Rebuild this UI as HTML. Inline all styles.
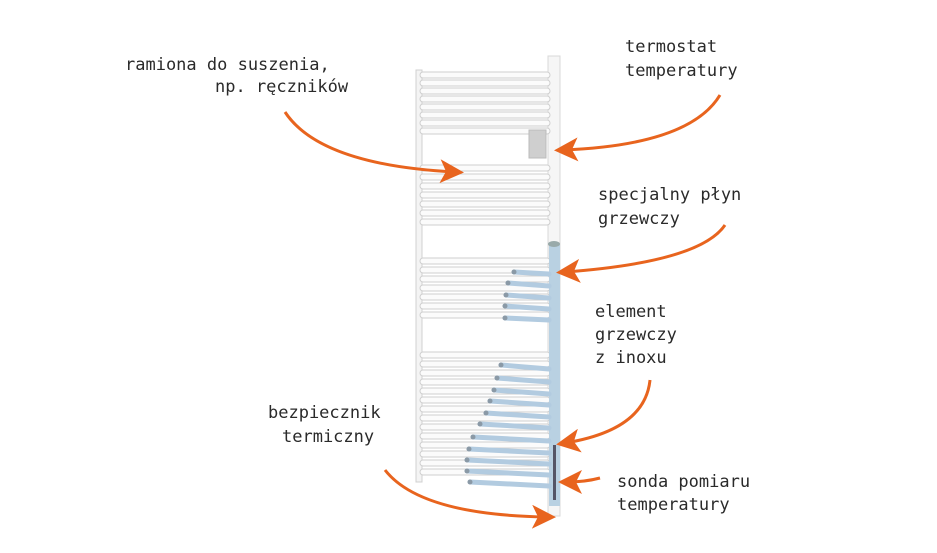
<!DOCTYPE html>
<html><head><meta charset="utf-8"><style>
html,body{margin:0;padding:0;background:#fff;width:937px;height:553px;overflow:hidden}
svg{display:block}
text{font-family:"DejaVu Sans Mono","Liberation Mono",monospace;font-size:17px;fill:#2a2a2a}
</style></head><body>
<svg width="937" height="553" viewBox="0 0 937 553">
<defs>
<marker id="a" markerWidth="8" markerHeight="8" refX="5" refY="4" orient="auto" markerUnits="strokeWidth">
<path d="M0,0 L8,4 L0,8 L2,4 Z" fill="#e8641e"/></marker>
</defs>
<rect x="416" y="70" width="6" height="412" fill="#f4f4f4" stroke="#d0d0d0"/>
<rect x="548" y="56" width="12" height="460" fill="#f6f6f6" stroke="#d8d8d8"/>
<g stroke="#cfcfcf" stroke-width="1" fill="#fbfbfb">
<rect x="420" y="72" width="130" height="6" rx="3"/>
<rect x="420" y="80" width="130" height="6" rx="3"/>
<rect x="420" y="88" width="130" height="6" rx="3"/>
<rect x="420" y="96" width="130" height="6" rx="3"/>
<rect x="420" y="104" width="130" height="6" rx="3"/>
<rect x="420" y="112" width="130" height="6" rx="3"/>
<rect x="420" y="120" width="130" height="6" rx="3"/>
<rect x="420" y="128" width="130" height="6" rx="3"/>
<rect x="420" y="165" width="130" height="6" rx="3"/>
<rect x="420" y="174" width="130" height="6" rx="3"/>
<rect x="420" y="183" width="130" height="6" rx="3"/>
<rect x="420" y="192" width="130" height="6" rx="3"/>
<rect x="420" y="201" width="130" height="6" rx="3"/>
<rect x="420" y="210" width="130" height="6" rx="3"/>
<rect x="420" y="219" width="130" height="6" rx="3"/>
<rect x="420" y="258" width="130" height="6" rx="3"/>
<rect x="420" y="267" width="130" height="6" rx="3"/>
<rect x="420" y="276" width="130" height="6" rx="3"/>
<rect x="420" y="285" width="130" height="6" rx="3"/>
<rect x="420" y="294" width="130" height="6" rx="3"/>
<rect x="420" y="303" width="130" height="6" rx="3"/>
<rect x="420" y="312" width="130" height="6" rx="3"/>
<rect x="420" y="352" width="130" height="6" rx="3"/>
<rect x="420" y="361" width="130" height="6" rx="3"/>
<rect x="420" y="370" width="130" height="6" rx="3"/>
<rect x="420" y="379" width="130" height="6" rx="3"/>
<rect x="420" y="388" width="130" height="6" rx="3"/>
<rect x="420" y="397" width="130" height="6" rx="3"/>
<rect x="420" y="406" width="130" height="6" rx="3"/>
<rect x="420" y="415" width="130" height="6" rx="3"/>
<rect x="420" y="424" width="130" height="6" rx="3"/>
<rect x="420" y="433" width="130" height="6" rx="3"/>
<rect x="420" y="442" width="130" height="6" rx="3"/>
<rect x="420" y="451" width="130" height="6" rx="3"/>
<rect x="420" y="460" width="130" height="6" rx="3"/>
<rect x="420" y="469" width="130" height="6" rx="3"/>
</g>
<rect x="529" y="130" width="17" height="28" fill="#cfcfcf" stroke="#bbb"/>
<rect x="549" y="244" width="11" height="262" fill="#b9d1e2"/>
<ellipse cx="554" cy="244" rx="6" ry="3" fill="#9aa"/>
<g stroke="#b2cbe0" stroke-width="5" stroke-linecap="round">
<line x1="514" y1="272" x2="549" y2="274"/>
<line x1="508" y1="283" x2="549" y2="286"/>
<line x1="506" y1="295" x2="549" y2="298"/>
<line x1="505" y1="306" x2="549" y2="309"/>
<line x1="505" y1="318" x2="549" y2="320"/>
<line x1="501" y1="365" x2="549" y2="369"/>
<line x1="497" y1="378" x2="549" y2="382"/>
<line x1="494" y1="390" x2="549" y2="394"/>
<line x1="490" y1="401" x2="549" y2="405"/>
<line x1="486" y1="413" x2="549" y2="417"/>
<line x1="480" y1="424" x2="549" y2="428"/>
<line x1="473" y1="437" x2="549" y2="441"/>
<line x1="469" y1="449" x2="549" y2="453"/>
<line x1="467" y1="460" x2="549" y2="464"/>
<line x1="467" y1="471" x2="549" y2="475"/>
<line x1="470" y1="482" x2="549" y2="486"/>
</g>
<g fill="#8a99a6">
<circle cx="514" cy="272" r="2.5"/><circle cx="508" cy="283" r="2.5"/><circle cx="506" cy="295" r="2.5"/><circle cx="505" cy="306" r="2.5"/><circle cx="505" cy="318" r="2.5"/>
<circle cx="501" cy="365" r="2.5"/><circle cx="497" cy="378" r="2.5"/><circle cx="494" cy="390" r="2.5"/><circle cx="490" cy="401" r="2.5"/><circle cx="486" cy="413" r="2.5"/><circle cx="480" cy="424" r="2.5"/><circle cx="473" cy="437" r="2.5"/><circle cx="469" cy="449" r="2.5"/><circle cx="467" cy="460" r="2.5"/><circle cx="467" cy="471" r="2.5"/><circle cx="470" cy="482" r="2.5"/>
</g>
<rect x="553" y="445" width="3" height="55" fill="#556"/>
<g fill="none" stroke="#e8641e" stroke-width="3" marker-end="url(#a)">
<path d="M285,112 Q320,165 455,172"/>
<path d="M720,95 Q690,145 563,150"/>
<path d="M725,225 Q700,262 565,272"/>
<path d="M650,380 Q645,430 565,443"/>
<path d="M600,478 Q585,482 567,482"/>
<path d="M385,470 Q420,515 547,517"/>
</g>
<text x="125" y="70">ramiona do suszenia,</text>
<text x="215" y="92">np. ręczników</text>
<text x="625" y="52">termostat</text>
<text x="625" y="76">temperatury</text>
<text x="598" y="200">specjalny płyn</text>
<text x="598" y="224">grzewczy</text>
<text x="595" y="317">element</text>
<text x="595" y="340">grzewczy</text>
<text x="595" y="363">z inoxu</text>
<text x="268" y="418">bezpiecznik</text>
<text x="282" y="442">termiczny</text>
<text x="617" y="487">sonda pomiaru</text>
<text x="617" y="510">temperatury</text>
</svg>
</body></html>
